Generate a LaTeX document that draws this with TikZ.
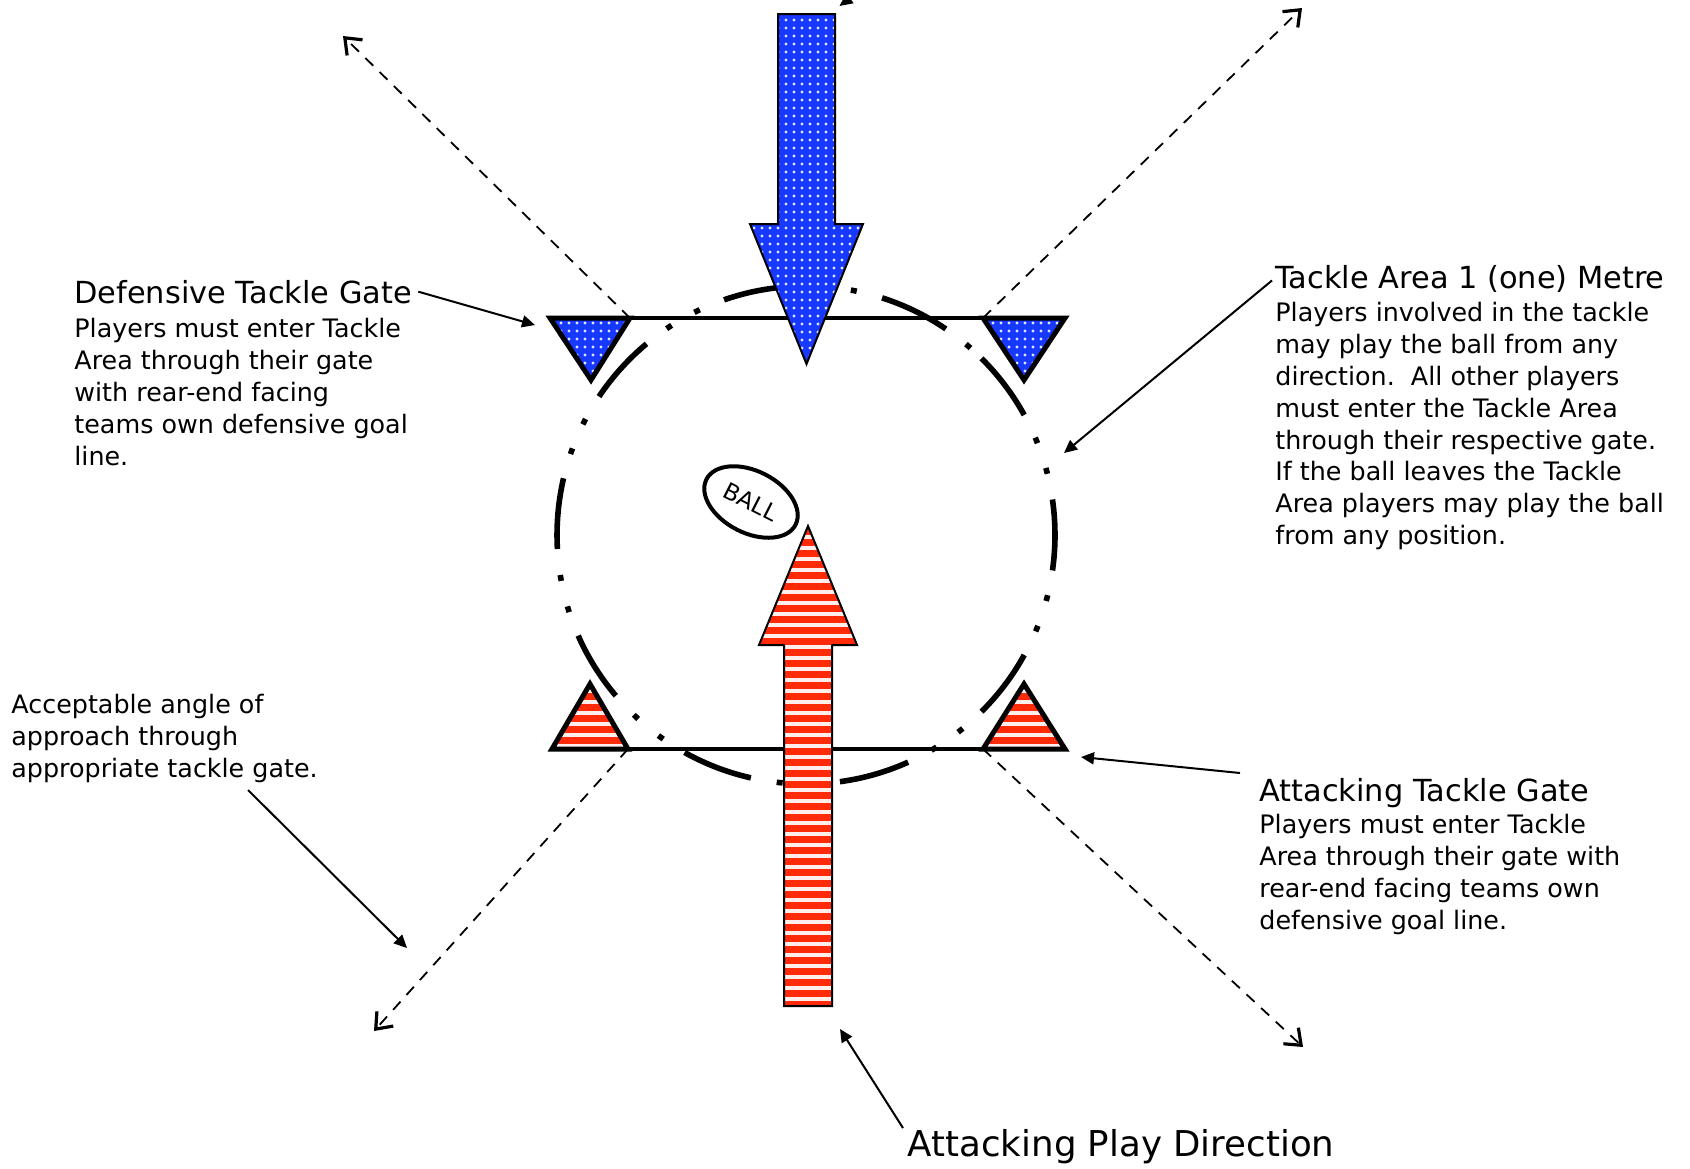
\documentclass[tikz,border=0pt]{standalone}
\usepackage{fontspec}
\setmainfont{DejaVu Sans}
\usetikzlibrary{arrows.meta,shapes.geometric}
\definecolor{gblue}{RGB}{22,56,255}
\definecolor{gred}{RGB}{255,42,8}
\newcommand\tfont{\fontsize{15.2}{19}\selectfont}
\newcommand\bfont{\fontsize{12.7}{15.95}\selectfont}
\newcommand\pfont{\fontsize{17.8}{21}\selectfont}
\begin{document}
\begin{tikzpicture}[x=0.5pt,y=-0.5pt,
  gateline/.style={line width=2pt},
  cone/.style={line width=2.5pt, line join=miter},
  bigarrow/.style={line width=1pt, line join=miter},
  approach/.style={line width=0.9pt, dash pattern=on 5.5pt off 4.5pt,
     -{Straight Barb[length=7pt,width=11pt,line width=1.6pt]}},
  pointer/.style={line width=1pt, -{Triangle[length=6.5pt,width=6pt]}},
  title/.style={font=\tfont, anchor=base west, inner sep=0pt},
  body/.style={font=\bfont, anchor=north west, align=left, inner sep=0pt}]
\useasboundingbox (0,0) rectangle (1690,1168);

% tackle area circle (dash-dot-dot)
\coordinate (cc) at (806,535);
\draw[line width=2.8pt, dash pattern=on 35.6pt off 12.6pt on 3pt off 13.1pt on 3pt off 13.1pt]
  (cc) ++(-45.2:249) arc[start angle=-45.2, delta angle=360, radius=249];

% gate lines
\draw[gateline] (550,318) -- (1065,318);
\draw[gateline] (552,749) -- (1065,749);

% dashed approach lines
\coordinate (tlc) at (630,318);
\coordinate (trc) at (983,318);
\coordinate (blc) at (628,749);
\coordinate (brc) at (983,749);
\coordinate (tle) at (343,36);
\coordinate (tre) at (1302,8);
\coordinate (ble) at (374,1031);
\coordinate (bre) at (1303,1047);
\draw[approach] (tlc) -- (tle);
\draw[approach] (trc) -- (tre);
\draw[approach] (blc) -- (ble);
\draw[approach] (brc) -- (bre);

% blue defensive cones
\foreach \p in {{(550,318) -- (630,318) -- (591,380) -- cycle}, {(983,318) -- (1065,318) -- (1024,380) -- cycle}}{
  \begin{scope}
    \clip \p;
    \fill[gblue] (540,310) rectangle (1075,390);
    \foreach \xx in {545,553,...,1075}{
      \foreach \yy in {323,331,...,390}{
        \fill[white!88!gblue] (\xx,\yy) circle (1.7);
      }
    }
  \end{scope}
  \draw[cone] \p;
}

% red attacking cones
\foreach \p in {{(552,749) -- (628,749) -- (590,684) -- cycle}, {(983,749) -- (1065,749) -- (1024,684) -- cycle}}{
  \begin{scope}
    \clip \p;
    \fill[gred] (540,680) rectangle (1075,755);
    \foreach \yy in {691,702,...,750}{
      \draw[white!92!gred, line width=1.8pt] (540,\yy) -- (1075,\yy);
    }
  \end{scope}
  \draw[cone] \p;
}

% blue defensive arrow
\begin{scope}
  \clip (778,14) -- (835,14) -- (835,224) -- (863,224) -- (806.5,364) -- (750,224) -- (778,224) -- cycle;
  \fill[gblue] (745,10) rectangle (870,370);
  \foreach \xx in {754,762,...,870}{
    \foreach \yy in {20,28,...,370}{
      \fill[white!88!gblue] (\xx,\yy) circle (1.7);
    }
  }
\end{scope}
\draw[bigarrow] (778,14) -- (835,14) -- (835,224) -- (863,224) -- (806.5,364) -- (750,224) -- (778,224) -- cycle;

% red attacking arrow
\begin{scope}
  \clip (784,1006) -- (832,1006) -- (832,645) -- (857,645) -- (808,526) -- (759,645) -- (784,645) -- cycle;
  \fill[gred] (750,520) rectangle (865,1010);
  \foreach \yy in {537,548,...,1006}{
    \draw[white!92!gred, line width=1.8pt] (750,\yy) -- (865,\yy);
  }
\end{scope}
\draw[bigarrow] (784,1006) -- (832,1006) -- (832,645) -- (857,645) -- (808,526) -- (759,645) -- (784,645) -- cycle;

% ball
\node[draw, ellipse, line width=2pt, rotate=-27, minimum width=50pt, minimum height=31pt, inner sep=0pt, font=\fontsize{11.5}{14}\selectfont] (ball) at (751,502) {BALL};

% texts
\node[title] (dtitle) at (74,303) {Defensive Tackle Gate};
\node[body] (dbody) at (74,314.7) {\strut Players must enter Tackle\\Area through their gate\\with rear-end facing\\teams own defensive goal\\line.};

\node[title] (ttitle) at (1275,288) {Tackle Area 1 (one) Metre};
\node[body] (tbody) at (1275,298.7) {\strut Players involved in the tackle\\may play the ball from any\\direction.\ \ All other players\\must enter the Tackle Area\\through their respective gate.\\If the ball leaves the Tackle\\Area players may play the ball\\from any position.};

\node[body] (abody) at (11,691.2) {\strut Acceptable angle of\\approach through\\appropriate tackle gate.};

\node[title] (gtitle) at (1259,801) {Attacking Tackle Gate};
\node[body] (gbody) at (1259,810.7) {\strut Players must enter Tackle\\Area through their gate with\\rear-end facing teams own\\defensive goal line.};

\node[font=\pfont, anchor=base west, inner sep=0pt] (ptitle) at (907.5,1156.5) {Attacking Play Direction};

% pointers
\coordinate (dgate) at (535,325);
\coordinate (tarea) at (1064,453);
\coordinate (astart) at (248,790);
\coordinate (aend) at (407,948);
\coordinate (gstart) at (1240,773);
\coordinate (ggate) at (1081,757);
\coordinate (pstart) at (903,1128);
\coordinate (parrow) at (840,1029);
\coordinate (xstart) at (885,-28);
\coordinate (xend) at (839.5,6);
\draw[pointer] ([xshift=3pt]dtitle.east) -- (dgate);
\draw[pointer] ([xshift=-1.5pt,yshift=-1pt]ttitle.west) -- (tarea);
\draw[pointer] (astart) -- (aend);
\draw[pointer] (gstart) -- (ggate);
\draw[pointer] (pstart) -- (parrow);
\draw[pointer] (xstart) -- (xend);
\end{tikzpicture}
\end{document}
